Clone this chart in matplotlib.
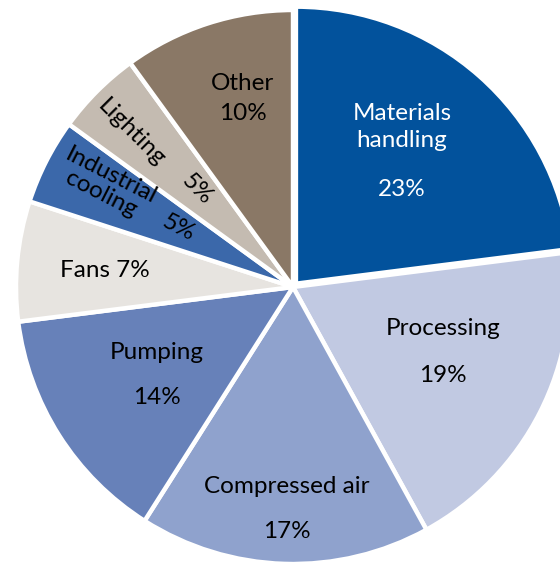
import matplotlib
matplotlib.use("Agg")
import matplotlib.pyplot as plt
import numpy as np

categories = ["Materials\nhandling", "Processing", "Compressed air", "Pumping",
              "Fans", "Industrial\ncooling", "Lighting", "Other"]
values = [23, 19, 17, 14, 7, 5, 5, 10]
pct_labels = ["23%", "19%", "17%", "14%", "7%", "5%", "5%", "10%"]
colors = ["#02529c", "#c1c9e2", "#8fa2cd", "#6781b9", "#e7e4e0", "#3b68aa", "#c4bbb1", "#8a7866"]

W, H = 560, 564
fig = plt.figure(figsize=(W / 100, H / 100), dpi=100)
cx, cy, R = 293, 287, 277
ax = fig.add_axes([(cx - R) / W, (H - cy - R) / H, 2 * R / W, 2 * R / H])

explode = [0.016, 0, 0, 0, 0, 0, 0, 0]
wedges, _ = ax.pie(values, colors=colors, startangle=90, counterclock=False,
                   explode=explode, radius=1.0,
                   wedgeprops=dict(edgecolor="white", linewidth=3.2))
ax.set_xlim(-1, 1)
ax.set_ylim(-1, 1)
ax.set_aspect("equal")
ax.axis("off")

font = "Lato"
fs = 17.5

def pix(px, py):
    return ((px - cx) / R, (cy - py) / R)

# label placement (pixel positions, per label)
name_pos = [(402, 127), (443, 329), (287, 487), (157, 353), None, (106, 185), (131, 133), (243, 84)]
pct_pos = [(402, 190), (443, 376), (287, 532), (157, 398), None, (179, 228), (197, 189), (243, 114)]
rot = [0, 0, 0, 0, 0, -27, -45, 0]
lsp = [1.3, 1, 1, 1, 1, 1.0, 1, 1]

for i, name in enumerate(categories):
    if name_pos[i] is None:
        continue
    x, y = pix(*name_pos[i])
    ax.text(x, y, name, ha="center", va="center", fontsize=fs, family=font,
            rotation=rot[i], rotation_mode="anchor", linespacing=lsp[i],
            color="white" if i == 0 else "black")
    x, y = pix(*pct_pos[i])
    ax.text(x, y, pct_labels[i], ha="center", va="center", fontsize=fs, family=font,
            rotation=rot[i], rotation_mode="anchor",
            color="white" if i == 0 else "black")

x, y = pix(105, 271)
ax.text(x, y, categories[4] + " " + pct_labels[4], ha="center", va="center",
        fontsize=fs, family=font, color="black")

fig.savefig("out.png", dpi=100)
